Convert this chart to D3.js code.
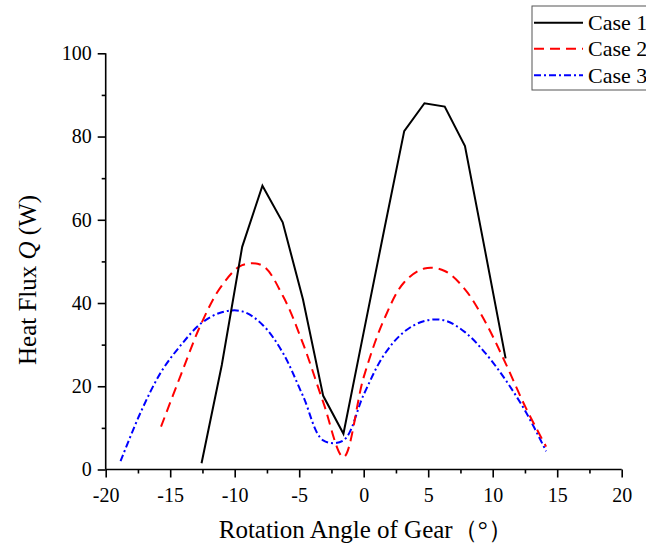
<!DOCTYPE html>
<html>
<head>
<meta charset="utf-8">
<script src="https://cdn.jsdelivr.net/npm/d3@7"></script>
<style>
  html, body { margin: 0; padding: 0; background: #fff; }
  svg { display: block; }
</style>
</head>
<body>
<svg id="chart" width="646" height="551"></svg>
<script>
// ---- data (rotation angle in degrees, heat flux in W) ----
const case1X = [-12.57, -11.00, -9.42, -7.85, -6.28, -4.71, -3.14, -1.57, 0, 1.57, 3.14, 4.71, 6.28, 7.85, 9.42, 11.00];
const case1Y = [1.5, 25.1, 53.5, 68.2, 59.4, 40.9, 17.7, 8.6, 33.0, 57.3, 81.3, 88.0, 87.2, 77.7, 52.4, 26.7];

const case2X = [-15.71, -14.14, -12.57, -11.00, -9.42, -7.85, -6.28, -4.71, -3.14, -1.57, 0, 1.57, 3.14, 4.71, 6.28, 7.85, 9.42, 11.00, 12.57, 14.14];
const case2Y = [10.3, 23.0, 35.2, 44.2, 49.1, 49.0, 41.8, 30.3, 16.2, 3.0, 22.2, 36.0, 45.0, 48.3, 47.7, 43.3, 35.5, 25.5, 14.8, 5.5];

const case3X = [-18.85, -17.28, -15.71, -14.14, -12.57, -11.00, -9.42, -7.85, -6.28, -4.71, -3.14, -1.57, 0, 1.57, 3.14, 4.71, 6.28, 7.85, 9.42, 11.00, 12.57, 14.14];
const case3Y = [2.0, 13.8, 23.4, 30.0, 35.2, 37.8, 38.0, 34.8, 28.1, 17.7, 7.0, 7.0, 18.0, 27.5, 33.1, 35.7, 35.8, 33.0, 28.0, 21.5, 13.8, 4.4];

const seriesNames = ["Case 1", "Case 2", "Case 3"];
const xTicks = [-20, -15, -10, -5, 0, 5, 10, 15, 20];
const xMinorTicks = [-17.5, -12.5, -7.5, -2.5, 2.5, 7.5, 12.5, 17.5];
const yTicks = [0, 20, 40, 60, 80, 100];
const yMinorTicks = [10, 30, 50, 70, 90];
const xTitle = "Rotation Angle of Gear（°）";

// ---- layout ----
const svg = d3.select("#chart");
const x = d3.scaleLinear().domain([-20, 20]).range([105.7, 621.7]);
const y = d3.scaleLinear().domain([0, 100]).range([469.5, 53.3]);
const serif = "'Liberation Serif', 'Times New Roman', serif";

// axes
const xAxis = svg.append("g").attr("transform", `translate(0,${y(0)})`)
  .call(d3.axisBottom(x).tickValues(xTicks).tickSize(8).tickPadding(10).tickFormat(d3.format("d")));
const xMinor = svg.append("g").attr("transform", `translate(0,${y(0)})`)
  .call(d3.axisBottom(x).tickValues(xMinorTicks).tickSize(4).tickFormat(""));
const yAxis = svg.append("g").attr("transform", `translate(${x(-20)},0)`)
  .call(d3.axisLeft(y).tickValues(yTicks).tickSize(8).tickPadding(6).tickFormat(d3.format("d")));
const yMinor = svg.append("g").attr("transform", `translate(${x(-20)},0)`)
  .call(d3.axisLeft(y).tickValues(yMinorTicks).tickSize(4).tickFormat(""));

[xAxis, xMinor, yAxis, yMinor].forEach(g => {
  g.selectAll("path").attr("stroke", "#000").attr("stroke-width", 1.6);
  g.selectAll("line").attr("stroke", "#000").attr("stroke-width", 1.6);
  g.selectAll("text").attr("font-family", serif).attr("font-size", 20).attr("fill", "#000");
});
xMinor.select("path").remove();
yMinor.select("path").remove();
xAxis.select("path").attr("d", `M${x(-20)},0H${x(20)}`);
yAxis.select("path").attr("d", `M0,${y(0)}V${y(100)}`);
xAxis.selectAll(".tick text").text(d => String(d));

// series
const makeData = (xs, ys) => xs.map((v, i) => [v, ys[i]]);
const lineLinear = d3.line().x(d => x(d[0])).y(d => y(d[1])).curve(d3.curveLinear);
const lineSmooth = d3.line().x(d => x(d[0])).y(d => y(d[1])).curve(d3.curveCatmullRom.alpha(0.5));

const styles = [
  { color: "#000000", dash: null, width: 2 },
  { color: "#ff0000", dash: "10,6", width: 2 },
  { color: "#0000ff", dash: "7,3,2,3", width: 2 }
];

svg.append("path").datum(makeData(case3X, case3Y))
  .attr("d", lineSmooth).attr("fill", "none")
  .attr("stroke", styles[2].color).attr("stroke-width", styles[2].width)
  .attr("stroke-dasharray", styles[2].dash);
svg.append("path").datum(makeData(case2X, case2Y))
  .attr("d", lineSmooth).attr("fill", "none")
  .attr("stroke", styles[1].color).attr("stroke-width", styles[1].width)
  .attr("stroke-dasharray", styles[1].dash);
svg.append("path").datum(makeData(case1X, case1Y))
  .attr("d", lineLinear).attr("fill", "none")
  .attr("stroke", styles[0].color).attr("stroke-width", styles[0].width)
  .attr("stroke-linejoin", "miter");

// axis titles
svg.append("text")
  .attr("x", (x(-20) + x(20)) / 2 + 2).attr("y", 538)
  .attr("text-anchor", "middle")
  .attr("font-family", serif).attr("font-size", 25).attr("fill", "#000")
  .text(xTitle);

const yt = svg.append("text")
  .attr("transform", "translate(36,365) rotate(-90)")
  .attr("text-anchor", "start")
  .attr("font-family", serif).attr("font-size", 25).attr("fill", "#000");
yt.append("tspan").text("Heat Flux ");
yt.append("tspan").attr("font-style", "italic").text("Q");
yt.append("tspan").text(" (W)");

// legend
const lg = svg.append("g");
lg.append("rect").attr("x", 532).attr("y", 6).attr("width", 130).attr("height", 84)
  .attr("fill", "#fff").attr("stroke", "#555").attr("stroke-width", 1);
const rowY = [22.7, 48.7, 75.3];
seriesNames.forEach((name, i) => {
  lg.append("line").attr("x1", 534).attr("x2", 583).attr("y1", rowY[i]).attr("y2", rowY[i])
    .attr("stroke", styles[i].color).attr("stroke-width", 2)
    .attr("stroke-dasharray", styles[i].dash);
  lg.append("text").attr("x", 588).attr("y", rowY[i] + 7.5)
    .attr("font-family", serif).attr("font-size", 22).attr("fill", "#000")
    .text(name);
});
</script>
</body>
</html>
